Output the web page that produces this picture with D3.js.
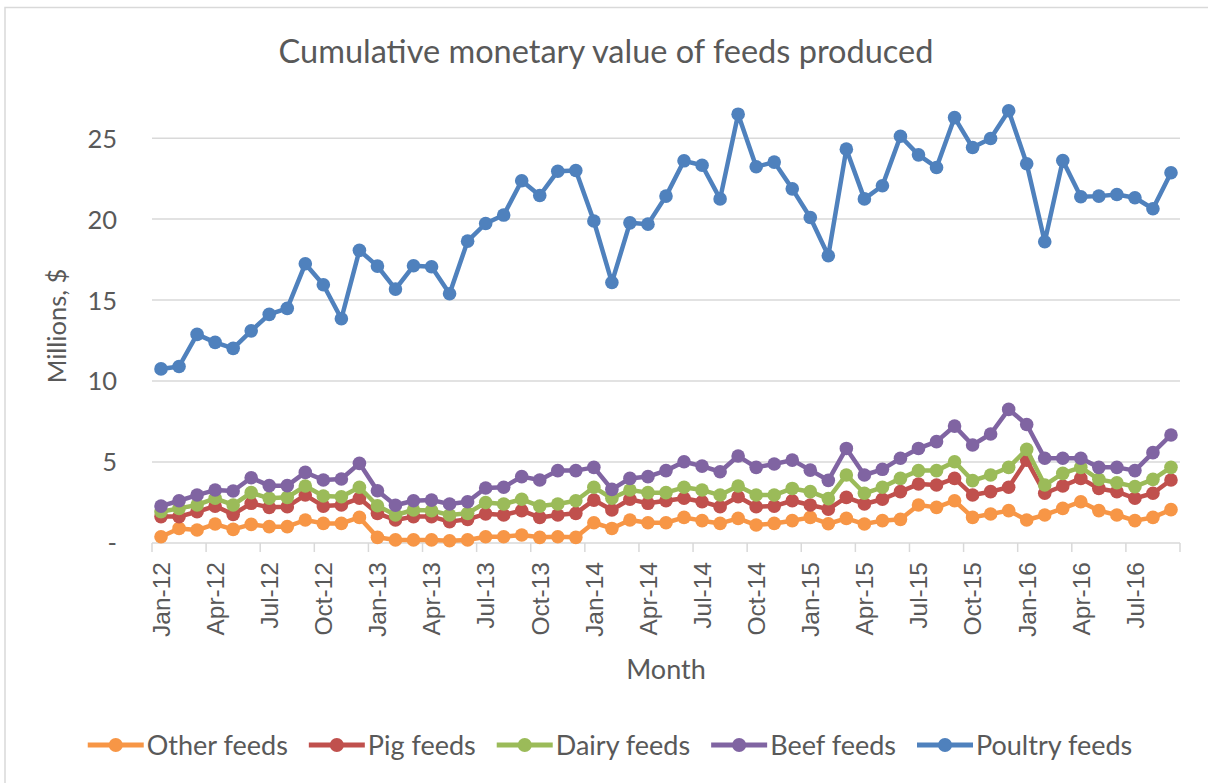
<!DOCTYPE html>
<html>
<head>
<meta charset="utf-8">
<script src="https://cdn.jsdelivr.net/npm/d3@7"></script>
<style>
  html, body { margin: 0; padding: 0; background: #fff; }
  svg { display: block; }
</style>
</head>
<body>
<svg id="chart" width="1208" height="783"></svg>
<script>
const months = [
  "Jan-12","Feb-12","Mar-12","Apr-12","May-12","Jun-12","Jul-12","Aug-12","Sep-12","Oct-12","Nov-12","Dec-12",
  "Jan-13","Feb-13","Mar-13","Apr-13","May-13","Jun-13","Jul-13","Aug-13","Sep-13","Oct-13","Nov-13","Dec-13",
  "Jan-14","Feb-14","Mar-14","Apr-14","May-14","Jun-14","Jul-14","Aug-14","Sep-14","Oct-14","Nov-14","Dec-14",
  "Jan-15","Feb-15","Mar-15","Apr-15","May-15","Jun-15","Jul-15","Aug-15","Sep-15","Oct-15","Nov-15","Dec-15",
  "Jan-16","Feb-16","Mar-16","Apr-16","May-16","Jun-16","Jul-16","Aug-16","Sep-16"
];
const xTickLabels = ["Jan-12","Apr-12","Jul-12","Oct-12","Jan-13","Apr-13","Jul-13","Oct-13","Jan-14","Apr-14","Jul-14","Oct-14","Jan-15","Apr-15","Jul-15","Oct-15","Jan-16","Apr-16","Jul-16"];
const yTicks = [0, 5, 10, 15, 20, 25];

const otherFeeds = [0.39,0.9,0.8,1.17,0.84,1.15,1.01,1.01,1.42,1.21,1.21,1.58,
  0.35,0.19,0.19,0.19,0.14,0.19,0.39,0.39,0.49,0.35,0.39,0.35,
  1.25,0.9,1.42,1.25,1.25,1.58,1.38,1.21,1.52,1.11,1.21,1.38,
  1.58,1.19,1.52,1.17,1.38,1.46,2.35,2.2,2.61,1.58,1.79,2.0,
  1.42,1.73,2.14,2.55,2.0,1.73,1.38,1.58,2.06];
const pigFeeds = [1.63,1.63,1.93,2.28,1.77,2.45,2.2,2.24,2.96,2.28,2.35,2.76,
  1.83,1.42,1.63,1.63,1.32,1.46,1.8,1.73,2.0,1.58,1.73,1.83,
  2.65,2.04,2.7,2.45,2.61,2.76,2.55,2.24,2.86,2.24,2.28,2.61,
  2.35,2.09,2.82,2.41,2.7,3.17,3.64,3.58,3.99,2.96,3.17,3.44,
  5.12,3.07,3.52,3.99,3.37,3.17,2.76,3.07,3.89];
const dairyFeeds = [1.93,2.14,2.35,2.76,2.35,3.11,2.76,2.82,3.52,2.9,2.86,3.44,
  2.3,1.73,2.04,2.0,1.73,1.83,2.5,2.41,2.7,2.28,2.41,2.61,
  3.44,2.76,3.27,3.11,3.11,3.44,3.27,2.96,3.52,2.96,2.96,3.37,
  3.17,2.74,4.2,3.07,3.44,3.99,4.47,4.47,5.02,3.85,4.2,4.67,
  5.78,3.58,4.3,4.67,3.93,3.72,3.48,3.93,4.67];
const beefFeeds = [2.28,2.61,2.96,3.27,3.21,4.03,3.54,3.54,4.36,3.89,3.95,4.92,
  3.23,2.33,2.61,2.65,2.41,2.55,3.4,3.44,4.1,3.89,4.47,4.47,
  4.67,3.31,3.99,4.1,4.47,5.02,4.75,4.4,5.37,4.67,4.88,5.12,
  4.5,3.87,5.84,4.2,4.55,5.23,5.84,6.26,7.22,6.05,6.73,8.25,
  7.32,5.23,5.23,5.23,4.67,4.67,4.47,5.58,6.67];
const poultryFeeds = [10.75,10.9,12.88,12.39,12.02,13.1,14.12,14.49,17.24,15.95,13.85,18.07,
  17.1,15.68,17.12,17.06,15.39,18.64,19.73,20.25,22.37,21.46,22.96,23.0,
  19.88,16.09,19.77,19.69,21.42,23.6,23.33,21.25,26.48,23.23,23.52,21.87,
  20.1,17.74,24.32,21.25,22.06,25.12,23.97,23.19,26.27,24.42,24.98,26.69,
  23.42,18.6,23.62,21.38,21.42,21.52,21.32,20.64,22.86];

const seriesNames = ["Other feeds","Pig feeds","Dairy feeds","Beef feeds","Poultry feeds"];
const seriesColors = ["#F79646","#C0504D","#9BBB59","#8064A2","#4F81BD"];
const seriesValues = [otherFeeds, pigFeeds, dairyFeeds, beefFeeds, poultryFeeds];

const svg = d3.select("#chart");
const textColor = "#595959";
const gridColor = "#D9D9D9";
const uiFont = "Lato, 'Open Sans', sans-serif";

// chart border (only left and top edges are visible in the cropped reference)
svg.append("path").attr("d", "M5,783V7.5H1208").attr("fill", "none")
  .attr("stroke", gridColor).attr("stroke-width", 1.5);

const plotL = 152, plotR = 1180, plotT = 109, plotB = 543;
const x = d3.scaleBand().domain(months).range([plotL, plotR]).padding(0);
const y = d3.scaleLinear().domain([0, 26.8]).range([plotB, plotT]);

// gridlines
svg.append("g").selectAll("line").data(yTicks.filter(d => d > 0)).join("line")
  .attr("x1", plotL).attr("x2", plotR)
  .attr("y1", d => y(d)).attr("y2", d => y(d))
  .attr("stroke", gridColor).attr("stroke-width", 1.5);

// y axis labels
const yAxis = d3.axisLeft(y).tickValues(yTicks).tickSize(0).tickPadding(0)
  .tickFormat(d => d === 0 ? "-" : d3.format("d")(d));
const yg = svg.append("g").attr("transform", `translate(117,0)`).call(yAxis);
yg.select(".domain").remove();
yg.selectAll("text").attr("font-family", uiFont).attr("font-size", 25.5).attr("fill", textColor).attr("dy", "0.35em");

// x axis
const tickBoundaries = d3.range(0, months.length + 1, 3).map(i => plotL + i * x.bandwidth());
svg.append("line").attr("x1", plotL).attr("x2", plotR).attr("y1", plotB).attr("y2", plotB)
  .attr("stroke", gridColor).attr("stroke-width", 1.5);
svg.append("g").selectAll("line").data(tickBoundaries).join("line")
  .attr("x1", d => d).attr("x2", d => d).attr("y1", plotB).attr("y2", plotB + 9)
  .attr("stroke", gridColor).attr("stroke-width", 1.5);

const xAxis = d3.axisBottom(x).tickValues(xTickLabels).tickSize(0).tickPadding(0);
const xg = svg.append("g").attr("transform", `translate(0,${plotB})`).call(xAxis);
xg.select(".domain").remove();
xg.selectAll("text")
  .attr("font-family", "'Liberation Sans', Arial, sans-serif").attr("font-size", 24.5).attr("fill", textColor)
  .attr("text-anchor", "end")
  .attr("transform", "rotate(-90)")
  .attr("x", -19).attr("y", 0).attr("dy", "0.36em");

// lines
const line = d3.line().x((d, i) => x(months[i]) + x.bandwidth() / 2).y(d => y(d));
seriesValues.forEach((vals, si) => {
  const g = svg.append("g");
  g.append("path").datum(vals).attr("d", line).attr("fill", "none")
    .attr("stroke", seriesColors[si]).attr("stroke-width", 4.5).attr("stroke-linejoin", "round");
  g.selectAll("circle").data(vals).join("circle")
    .attr("cx", (d, i) => x(months[i]) + x.bandwidth() / 2).attr("cy", d => y(d))
    .attr("r", 6.8).attr("fill", seriesColors[si]);
});

// title
svg.append("text").attr("x", 606).attr("y", 63).attr("text-anchor", "middle")
  .attr("font-family", uiFont).attr("font-size", 32.5).attr("fill", textColor)
  .text("Cumulative monetary value of feeds produced");

// axis titles
svg.append("text").attr("transform", `translate(66,${(plotT + plotB) / 2}) rotate(-90)`)
  .attr("text-anchor", "middle").attr("font-family", uiFont).attr("font-size", 25.5).attr("fill", textColor)
  .text("Millions, $");
svg.append("text").attr("x", (plotL + plotR) / 2).attr("y", 679).attr("text-anchor", "middle")
  .attr("font-family", uiFont).attr("font-size", 27).attr("fill", textColor)
  .text("Month");

// legend
const legY = 745;
const lg = svg.append("g");
const items = seriesNames.map((name, i) => {
  const g = lg.append("g");
  g.append("line").attr("x1", 0).attr("x2", 56).attr("y1", 0).attr("y2", 0)
    .attr("stroke", seriesColors[i]).attr("stroke-width", 5);
  g.append("circle").attr("cx", 28).attr("cy", 0).attr("r", 7).attr("fill", seriesColors[i]);
  const t = g.append("text").attr("x", 59).attr("y", 0).attr("dy", "0.36em")
    .attr("font-family", uiFont).attr("font-size", 27).attr("fill", textColor).text(name);
  return { g, w: 59 + t.node().getComputedTextLength() };
});
const gap = 21;
const totalW = d3.sum(items, d => d.w) + gap * (items.length - 1);
let cx = 610 - totalW / 2;
items.forEach(it => { it.g.attr("transform", `translate(${cx},${legY})`); cx += it.w + gap; });
</script>
</body>
</html>
